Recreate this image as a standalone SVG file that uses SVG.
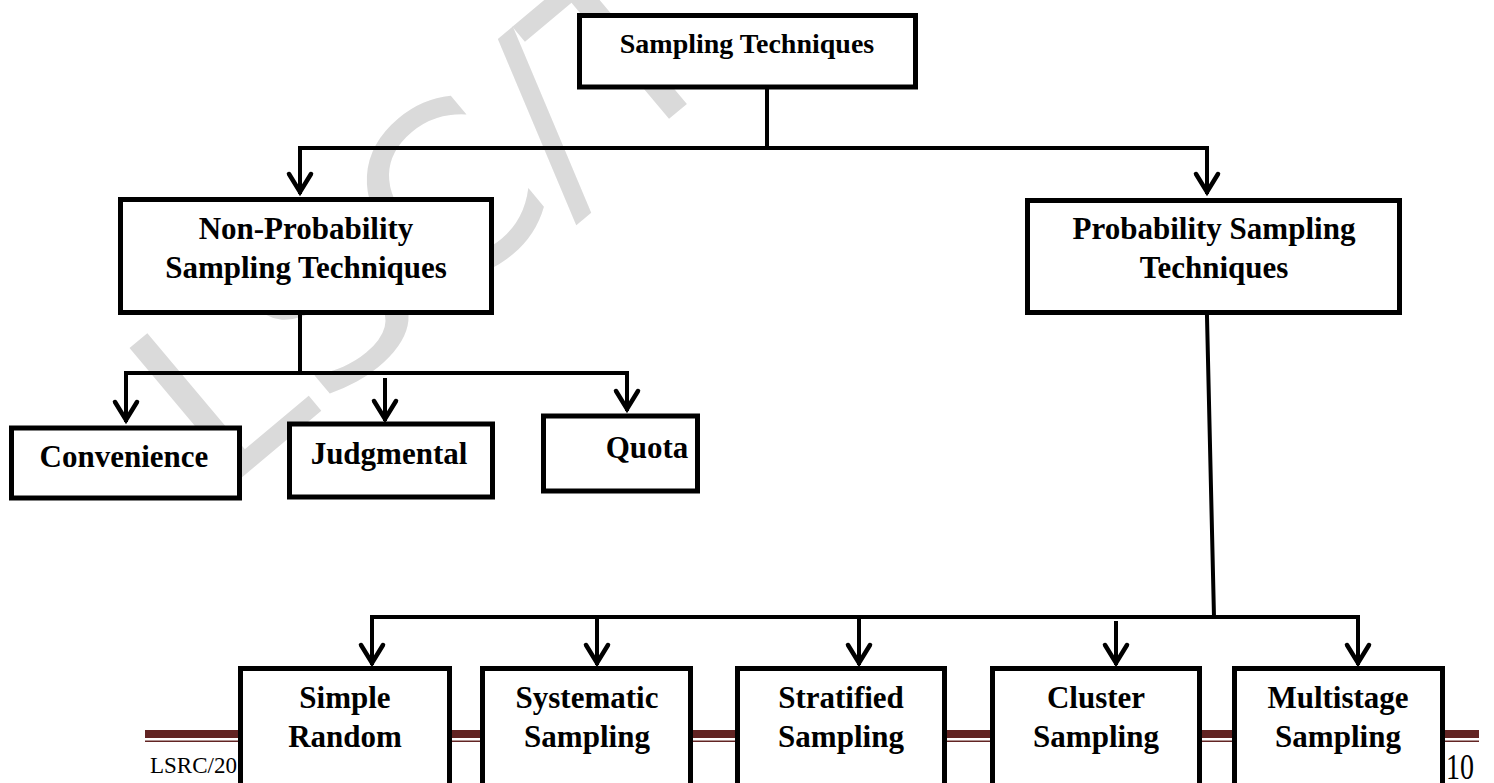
<svg xmlns="http://www.w3.org/2000/svg" width="1494" height="783" viewBox="0 0 1494 783">
<style>
.box{fill:#fff;stroke:#000;stroke-width:5}
.lbl{font-family:"Liberation Serif","Times New Roman",serif;font-weight:bold;font-size:31px;text-anchor:middle;fill:#000}
.conn{fill:none;stroke:#000;stroke-width:4;stroke-linecap:square;stroke-linejoin:miter}
.arr{marker-end:url(#ah)}
.foot{font-family:"Liberation Serif","Times New Roman",serif;fill:#000}
</style>
<defs>
<marker id="ah" markerUnits="userSpaceOnUse" viewBox="-24 -16 30 32" refX="0" refY="0" markerWidth="30" markerHeight="32" orient="auto">
<path d="M-18,-11 L0,0 L-18,11" fill="none" stroke="#000" stroke-width="4.5" stroke-linecap="round" stroke-linejoin="miter"/>
</marker>
</defs>
<g id="watermark">
<text transform="translate(222,494) rotate(-40)" font-family="DejaVu Sans, sans-serif" font-size="235" fill="#dadada">LSC/T</text>
</g>
<g id="footer">
<rect x="145" y="730" width="1334" height="8" fill="#622423"/>
<rect x="145" y="740.5" width="1334" height="1.5" fill="#622423"/>
<text class="foot" x="150" y="773" font-size="23">LSRC/20</text>
<text class="foot" x="1446" y="779" font-size="36" textLength="28" lengthAdjust="spacingAndGlyphs">10</text>
</g>
<g id="connectors">
<path class="conn" d="M767,91 V148"/>
<path class="conn arr" d="M767,148 H300 V192"/>
<path class="conn arr" d="M767,148 H1207 V192"/>
<path class="conn" d="M300,317 V373"/>
<path class="conn arr" d="M300,373 H126 V420"/>
<path class="conn arr" d="M300,373 H627 V409"/>
<path class="conn arr" d="M385,380 V419"/>
<path class="conn" d="M1207,317 L1214,617"/>
<path class="conn arr" d="M1214,617 H372 V663"/>
<path class="conn arr" d="M597,617 V663"/>
<path class="conn arr" d="M859,617 V663"/>
<path class="conn arr" d="M1116,623 V663"/>
<path class="conn arr" d="M1214,617 H1358 V663"/>
</g>
<g id="n-root">
<rect class="box" x="579.5" y="15.5" width="336" height="71.5"/>
<text class="lbl" x="747" y="53" style="font-size:28px">Sampling Techniques</text>
</g>
<g id="n-nonprob">
<rect class="box" x="120.5" y="199.5" width="371" height="113"/>
<text class="lbl" x="306" y="239">Non-Probability</text>
<text class="lbl" x="306" y="278">Sampling Techniques</text>
</g>
<g id="n-prob">
<rect class="box" x="1027.5" y="200.5" width="372" height="112"/>
<text class="lbl" x="1214" y="239">Probability Sampling</text>
<text class="lbl" x="1214" y="278">Techniques</text>
</g>
<g id="n-convenience">
<rect class="box" x="11.5" y="428" width="228" height="70"/>
<text class="lbl" x="124" y="467">Convenience</text>
</g>
<g id="n-judgmental">
<rect class="box" x="289.5" y="424" width="203" height="73"/>
<text class="lbl" x="389" y="464">Judgmental</text>
</g>
<g id="n-quota">
<rect class="box" x="543.5" y="416" width="154" height="75"/>
<text class="lbl" x="647" y="458">Quota</text>
</g>
<g id="n-simple">
<rect class="box" x="240.5" y="668.5" width="209" height="200"/>
<text class="lbl" x="345" y="708">Simple</text>
<text class="lbl" x="345" y="747">Random</text>
</g>
<g id="n-systematic">
<rect class="box" x="482.5" y="668.5" width="208" height="200"/>
<text class="lbl" x="587" y="708">Systematic</text>
<text class="lbl" x="587" y="747">Sampling</text>
</g>
<g id="n-stratified">
<rect class="box" x="737.5" y="668.5" width="207" height="200"/>
<text class="lbl" x="841" y="708">Stratified</text>
<text class="lbl" x="841" y="747">Sampling</text>
</g>
<g id="n-cluster">
<rect class="box" x="992.5" y="668.5" width="207" height="200"/>
<text class="lbl" x="1096" y="708">Cluster</text>
<text class="lbl" x="1096" y="747">Sampling</text>
</g>
<g id="n-multistage">
<rect class="box" x="1234.5" y="668.5" width="208" height="200"/>
<text class="lbl" x="1338" y="708">Multistage</text>
<text class="lbl" x="1338" y="747">Sampling</text>
</g>
</svg>
